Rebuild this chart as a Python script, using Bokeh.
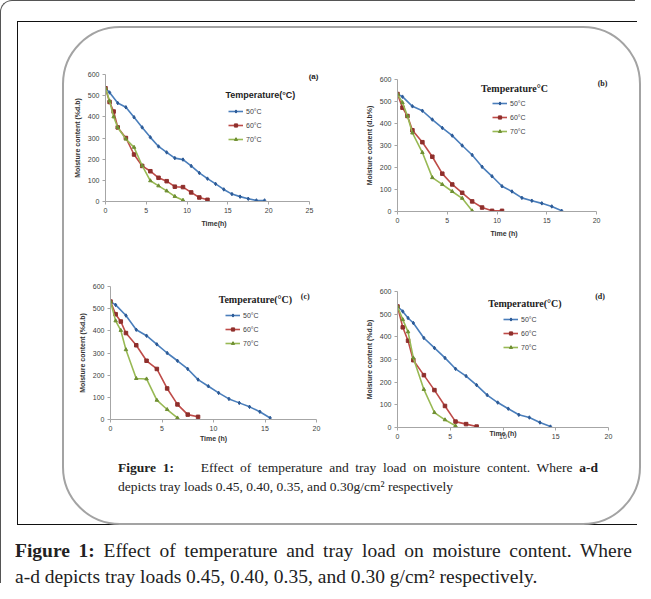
from bokeh.plotting import figure
from bokeh.models import Div, Legend, LegendItem, Label, Range1d, FixedTicker, Column, Row
from bokeh.embed import file_html
from bokeh.resources import INLINE

# ---------------- data ----------------
# (a) tray load 0.45 g/cm2
a_t50 = [0, 0.5, 1.5, 2.5, 3.5, 4.5, 5.5, 6.5, 7.5, 8.5, 9.5, 10.5, 11.5, 12.5, 13.5, 14.5, 15.5, 16.5, 17.5, 18.5, 19.5]
a_m50 = [535, 515, 465, 445, 398, 350, 303, 260, 232, 205, 198, 168, 135, 108, 83, 57, 35, 23, 13, 5, 5]
a_t60 = [0, 0.5, 1, 1.5, 2.5, 3.5, 4.5, 5.5, 6.5, 7.5, 8.5, 9.5, 10.5, 11.5, 12.5]
a_m60 = [535, 470, 425, 350, 300, 222, 168, 143, 112, 96, 70, 68, 43, 19, 8]
a_t70 = [0, 0.5, 1, 1.5, 2.5, 3.5, 4.5, 5.5, 6.5, 7.5, 8.5, 9.5]
a_m70 = [535, 475, 400, 350, 295, 256, 169, 98, 74, 50, 24, 6]

# (b) tray load 0.40 g/cm2
b_t50 = [0, 0.5, 1.5, 2.5, 3.5, 4.5, 5.5, 6.5, 7.5, 8.5, 9.5, 10.5, 11.5, 12.5, 13.5, 14.5, 15.5, 16.5]
b_m50 = [534, 522, 478, 458, 418, 380, 345, 300, 257, 203, 160, 115, 91, 62, 49, 37, 23, 3]
b_t60 = [0, 0.5, 1, 1.5, 2.5, 3.5, 4.5, 5.5, 6.5, 7.5, 8.5, 9.5, 10.5]
b_m60 = [534, 472, 434, 369, 315, 249, 172, 123, 85, 46, 18, 3, 3]
b_t70 = [0, 0.5, 1, 1.5, 2.5, 3.5, 4.5, 5.5, 6.5, 7.5]
b_m70 = [534, 495, 434, 357, 268, 154, 123, 91, 60, 3]

# (c) tray load 0.35 g/cm2
c_t50 = [0, 0.5, 1.5, 2.5, 3.5, 4.5, 5.5, 6.5, 7.5, 8.5, 9.5, 10.5, 11.5, 12.5, 13.5, 14.5, 15.5]
c_m50 = [532, 517, 469, 405, 378, 339, 300, 265, 228, 180, 150, 120, 93, 75, 57, 35, 7]
c_t60 = [0, 0.5, 1, 1.5, 2.5, 3.5, 4.5, 5.5, 6.5, 7.5, 8.5]
c_m60 = [532, 475, 442, 390, 335, 265, 228, 140, 68, 22, 12]
c_t70 = [0, 0.5, 1, 1.5, 2.5, 3.5, 4.5, 5.5, 6.5]
c_m70 = [532, 445, 402, 315, 185, 183, 87, 45, 7]

# (d) tray load 0.30 g/cm2
d_t50 = [0, 0.5, 1, 1.5, 2.5, 3.5, 4.5, 5.5, 6.5, 7.5, 8.5, 9.5, 10.5, 11.5, 12.5, 13.5, 14.5]
d_m50 = [534, 512, 483, 461, 395, 351, 307, 259, 227, 187, 143, 110, 83, 56, 44, 22, 4]
d_t60 = [0, 0.5, 1, 1.5, 2.5, 3.5, 4.5, 5.5, 6.5, 7.5]
d_m60 = [534, 442, 383, 297, 231, 165, 95, 26, 15, 4]
d_t70 = [0, 0.5, 1, 1.5, 2.5, 3.5, 4.5, 5.5]
d_m70 = [534, 476, 422, 307, 168, 66, 34, 7]

series_labels = ["50°C", "60°C", "70°C"]
y_ticks = [0, 100, 200, 300, 400, 500, 600]

# ---------------- styling ----------------
COLORS = ["#4a7ebb", "#be4b48", "#98b954"]
MARKERS = ["diamond", "square", "triangle"]
MCOL = ["#2c5a96", "#8f2f2c", "#6f8f33"]
SANS = "Liberation Sans"
SERIF = "Liberation Serif"


def panel(data, xmax, xbound, x_ticks, xlabel, ylabel, title, title_font, title_size, title_xy,
          tag, tag_xy, frame_w, frame_h, mb, leg_loc, xlabel_standoff=4):
    p = figure(frame_width=frame_w, frame_height=frame_h,
               x_range=Range1d(0, xmax), y_range=Range1d(0, 600),
               output_backend="svg", toolbar_location=None,
               min_border_left=mb[0], min_border_top=mb[1],
               min_border_right=mb[2], min_border_bottom=mb[3])
    p.grid.visible = False
    p.outline_line_color = None
    p.background_fill_alpha = 0
    p.border_fill_alpha = 0
    for ax in (p.xaxis[0], p.yaxis[0]):
        ax.axis_line_color = "#a6a6a6"
        ax.major_tick_line_color = "#a6a6a6"
        ax.major_tick_out = 3
        ax.major_tick_in = 0
        ax.minor_tick_line_color = None
        ax.major_label_text_font = SANS
        ax.major_label_text_font_size = "7px"
        ax.major_label_text_color = "#404040"
        ax.major_label_standoff = 3
        ax.axis_label_text_font = SANS
        ax.axis_label_text_font_size = "7px"
        ax.axis_label_text_font_style = "bold"
        ax.axis_label_text_color = "#333333"
    p.xaxis.ticker = FixedTicker(ticks=x_ticks)
    p.yaxis.ticker = FixedTicker(ticks=y_ticks)
    p.xaxis.bounds = (0, xbound)
    p.xaxis.axis_label = xlabel
    p.yaxis.axis_label = ylabel
    p.xaxis.axis_label_standoff = xlabel_standoff
    p.yaxis.axis_label_standoff = 4

    items = []
    for (t, m), col, mk, mc, lab in zip(data, COLORS, MARKERS, MCOL, series_labels):
        r1 = p.line(t, m, line_color=col, line_width=1.6)
        r2 = p.scatter(t, m, marker=mk, size=3.5, fill_color=mc, line_color=mc)
        items.append(LegendItem(label=lab, renderers=[r1, r2]))
    leg = Legend(items=items, location=leg_loc, background_fill_alpha=0,
                 border_line_alpha=0, label_text_font=SANS, label_text_font_size="7px",
                 label_text_color="#404040", glyph_width=15, glyph_height=8,
                 label_height=8, label_standoff=3, spacing=6, padding=0, margin=0)
    p.add_layout(leg, "center")

    p.add_layout(Label(x=title_xy[0], y=title_xy[1], text=title, text_font=title_font,
                       text_font_size=title_size, text_font_style="bold",
                       text_color="#222222", text_baseline="middle", text_align="left"))
    p.add_layout(Label(x=tag_xy[0], y=tag_xy[1], text=tag, text_font=title_font,
                       text_font_size="8px", text_font_style="bold",
                       text_color="#222222", text_baseline="middle", text_align="center"))
    return p


pa = panel([(a_t50, a_m50), (a_t60, a_m60), (a_t70, a_m70)], 26.6, 25, [0, 5, 10, 15, 20, 25],
           "Time(h)", "Moisture content (%d.b)", "Temperature(°C)", SANS, "9px", (14.7, 505),
           "(a)", (25.5, 590), 217, 127, (41, 40, 30, 38), (123, 58))
pb = panel([(b_t50, b_m50), (b_t60, b_m60), (b_t70, b_m70)], 21.4, 20, [0, 5, 10, 15, 20],
           "Time (h)", "Moisture content (d.b%)", "Temperature°C", SERIF, "10px", (8.4, 559),
           "(b)", (20.6, 582), 213, 132, (45, 40, 29, 28), (95, 76))
pc = panel([(c_t50, c_m50), (c_t60, c_m60), (c_t70, c_m70)], 20, 20, [0, 5, 10, 15, 20],
           "Time (h)", "Moisture content (%d.b)", "Temperature(°C)", SERIF, "10px", (10.5, 541),
           "(c)", (18.9, 555), 206, 133, (46, 40, 36, 33), (115, 72), xlabel_standoff=1)
pd_ = panel([(d_t50, d_m50), (d_t60, d_m60), (d_t70, d_m70)], 20, 20, [0, 5, 10, 15, 20],
            "Time (h)", "Moisture content (%d.b)", "Temperature(°C)", SERIF, "10px", (8.6, 547),
            "(d)", (19.2, 578), 211, 136, (45, 40, 31, 25), (106, 76), xlabel_standoff=-12)

wa = Column(children=[pa], margin=(6, 0, 0, 0))
wb = Column(children=[pb], margin=(11, 0, 0, 0))
wc = Column(children=[pc], margin=(7, 0, 0, 0))
wd = Column(children=[pd_], margin=(12, 0, 0, 0))
row1 = Row(children=[wa, wb], spacing=0)
row2 = Row(children=[wc, wd], spacing=0)

inner_cap = Div(text=(
    "<div style=\"font-family:'Liberation Serif';font-size:13.5px;line-height:19px;color:#222;\">"
    "<div style='width:480px;text-align:justify;text-align-last:justify;white-space:normal'>"
    "<b>Figure 1:</b>&nbsp;&nbsp;&nbsp; Effect of temperature and tray load on moisture content. Where <b>a-d</b></div>"
    "<div>depicts tray loads 0.45, 0.40, 0.35, and 0.30g/cm² respectively</div></div>"),
    width=490, height=65, margin=(6, 0, 0, 54))

rounded = Column(children=[row1, row2, inner_cap], spacing=0, margin=(4, 0, 0, 44),
                 styles={"border": "2px solid #a3a3a3", "border-radius": "58px"})

inner_box = Column(children=[rounded], width=620, height=504, margin=(20, 0, 0, 16),
                   styles={"border-top": "1px solid #111", "border-left": "1px solid #111",
                           "border-bottom": "1px solid #111"})

outer_cap = Div(text=(
    "<div style=\"font-family:'Liberation Serif';font-size:19.5px;line-height:26px;color:#222;"
    "white-space:nowrap;width:625px;overflow:hidden;\">"
    "<div style='word-spacing:3.8px'><b>Figure 1:</b> Effect of temperature and tray load on moisture content. Where</div>"
    "<div>a-d depicts tray loads 0.45, 0.40, 0.35, and 0.30 g/cm² respectively.</div></div>"),
    width=620, height=52, margin=(13, 0, 0, 14))

root = Column(children=[inner_box, outer_cap], width=635, height=583, spacing=0,
              styles={"border-top": "1px solid #555", "border-left": "1px solid #555",
                      "border-top-left-radius": "12px"})

open("out.html", "w").write(file_html(root, INLINE))
